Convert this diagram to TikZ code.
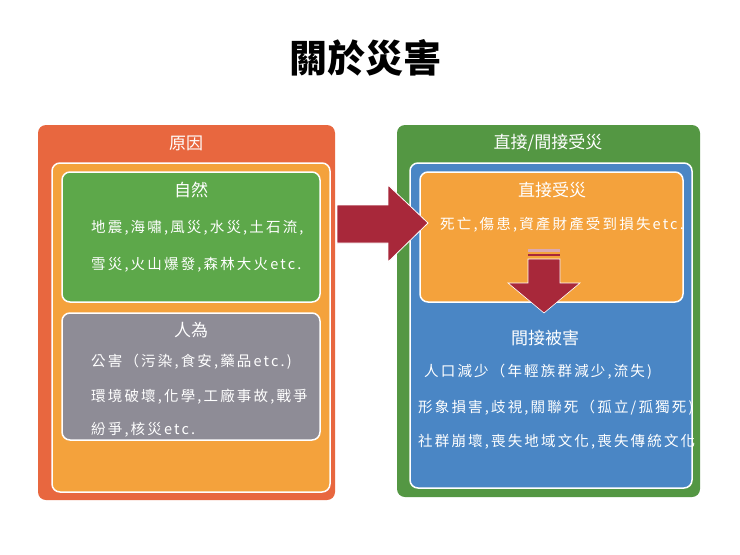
\documentclass[tikz,border=0pt]{standalone}
\usepackage{fontspec}
\setmainfont{Noto Sans CJK TC}
\newfontfamily\spaced[LetterSpace=15]{Noto Sans CJK TC}
\definecolor{redor}{HTML}{E8673F}
\definecolor{orng}{HTML}{F4A23C}
\definecolor{grn}{HTML}{5DA84A}
\definecolor{gry}{HTML}{8E8C96}
\definecolor{blu}{HTML}{4A86C5}
\definecolor{arr}{HTML}{A8283A}
\begin{document}
\begin{tikzpicture}[x=1pt,y=-1pt,
  box/.style={draw=white,line width=1.5pt,rounded corners=8pt},
  hd/.style={text=white,font=\fontsize{17}{20}\selectfont},
  tx/.style={text=white,font=\spaced\fontsize{14.5}{17}\selectfont,anchor=west,inner sep=0pt}]
\useasboundingbox (0,0) rectangle (740,555);
\fill[white] (0,0) rectangle (740,555);
\node[font=\bfseries\fontsize{38}{42}\selectfont] (title) at (365,58) {關於災害};
% left
\fill[redor,rounded corners=8pt] (38,125) rectangle (335,500);
\node[hd] (h1) at (186,143) {原因};
\draw[box,fill=orng] (52,163) rectangle (330,492);
\draw[box,fill=grn] (62,172) rectangle (320,302);
\node[hd] (n1) at (191,190) {自然};
\node[tx] (a1) at (91,228) {地震,海嘯,風災,水災,土石流,};
\node[tx] (a2) at (91,265) {雪災,火山爆發,森林大火etc.};
\draw[box,fill=gry] (62,313) rectangle (320,440);
\node[hd] (n2) at (191,330) {人為};
\node[tx] (b1) at (91,362) {公害（污染,食安,藥品etc.)};
\node[tx] (b2) at (91,397) {環境破壞,化學,工廠事故,戰爭};
\node[tx] (b3) at (91,430) {紛爭,核災etc.};
% right
\fill[grn!90!black,rounded corners=8pt] (397,125) rectangle (700,497);
\node[hd] (h2) at (548,143) {直接/間接受災};
\draw[box,fill=blu] (410,163) rectangle (692,488);
\draw[box,fill=orng] (420,172) rectangle (683,302);
\node[hd] (n3) at (552,190) {直接受災};
\node[tx] (c1) at (440,225) {死亡,傷患,資產財產受到損失etc.};
\node[hd] (n4) at (545,338) {間接被害};
\node[tx] (d1) at (424,372) {人口減少（年輕族群減少,流失)};
\node[tx] (d2) at (418,408) {形象損害,歧視,關聯死（孤立/孤獨死)};
\node[tx] (d3) at (418,442) {社群崩壞,喪失地域文化,喪失傳統文化};
% right arrow
\fill[arr,draw=white,line width=0.8pt] (337,205) -- (388,205) -- (388,185) -- (428,223) -- (388,262) -- (388,243) -- (337,243) -- cycle;
% down arrow
\fill[arr!40!white] (528,249) rectangle (560,252);
\fill[arr] (528,254) rectangle (560,256);
\fill[arr,draw=white,line width=0.6pt] (528,259) -- (560,259) -- (560,283) -- (580,283) -- (544,313) -- (508,283) -- (528,283) -- cycle;
\end{tikzpicture}
\end{document}
